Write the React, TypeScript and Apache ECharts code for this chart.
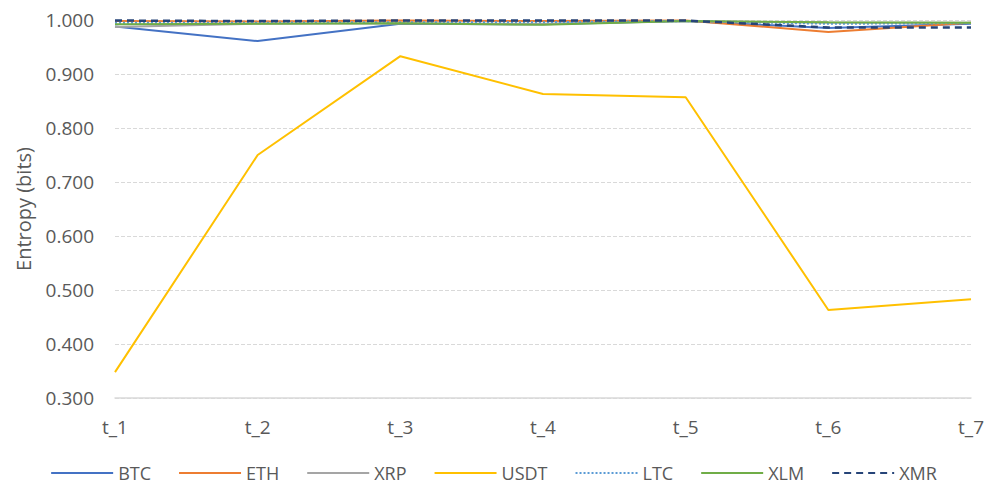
import React, { useEffect, useRef } from "react";
import * as echarts from "echarts";

const categories = ["t_1", "t_2", "t_3", "t_4", "t_5", "t_6", "t_7"];
const btc = [0.988, 0.961, 0.993, 0.992, 0.998, 0.985, 0.993];
const eth = [0.998, 0.997, 0.999, 0.998, 0.999, 0.978, 0.995];
const xrp = [0.987, 0.993, 0.994, 0.993, 0.998, 0.995, 0.995];
const usdt = [0.348, 0.75, 0.933, 0.863, 0.857, 0.463, 0.483];
const ltc = [0.995, 0.995, 0.996, 0.996, 0.998, 0.993, 0.994];
const xlm = [0.992, 0.993, 0.994, 0.991, 0.998, 0.996, 0.995];
const xmr = [0.999, 0.998, 0.999, 0.999, 0.999, 0.986, 0.986];

const FONT = "'Open Sans', sans-serif";

export default function App() {
  const ref = useRef<HTMLDivElement>(null);
  useEffect(() => {
    if (!ref.current) return;
    const chart = echarts.init(ref.current, undefined, { renderer: "svg" });
    const mk = (name: string, data: number[], color: string, type: any = "solid", width = 2) => ({
      name,
      type: "line",
      data,
      symbol: "none",
      lineStyle: { color, width, type },
      itemStyle: { color },
    });
    chart.setOption({
      animation: false,
      textStyle: { fontFamily: FONT },
      grid: { left: 115, right: 12, top: 20, bottom: 87 },
      legend: {
        top: 459,
        left: "center",
        itemWidth: 62,
        itemHeight: 14,
        itemGap: 27,
        itemStyle: { opacity: 0 },
        textStyle: { color: "#595959", fontSize: 18, fontFamily: FONT },
        data: ["BTC", "ETH", "XRP", "USDT", "LTC", "XLM", "XMR"],
      },
      xAxis: {
        type: "category",
        data: categories,
        boundaryGap: false,
        axisTick: { show: false },
        axisLine: { lineStyle: { color: "#d9d9d9", width: 1.5 } },
        axisLabel: { color: "#595959", fontSize: 19, margin: 19 },
      },
      yAxis: {
        type: "value",
        min: 0.3,
        max: 1.0,
        interval: 0.1,
        name: "Entropy (bits)",
        nameLocation: "middle",
        nameGap: 82,
        nameTextStyle: { color: "#595959", fontSize: 20 },
        axisLabel: {
          color: "#595959",
          fontSize: 19,
          margin: 21,
          formatter: (v: number) => v.toFixed(3),
        },
        splitLine: { lineStyle: { color: "#d9d9d9", type: "dashed" } },
      },
      series: [
        mk("BTC", btc, "#4472C4"),
        mk("ETH", eth, "#ED7D31"),
        mk("XRP", xrp, "#A5A5A5"),
        mk("USDT", usdt, "#FFC000"),
        mk("LTC", ltc, "#5B9BD5", "dotted"),
        mk("XLM", xlm, "#70AD47"),
        mk("XMR", xmr, "#264478", [7, 5], 2.5),
      ],
    });
    return () => chart.dispose();
  }, []);
  return (
    <div
      ref={ref}
      style={{ position: "absolute", left: 0, top: 0, width: 987, height: 485 }}
    />
  );
}
